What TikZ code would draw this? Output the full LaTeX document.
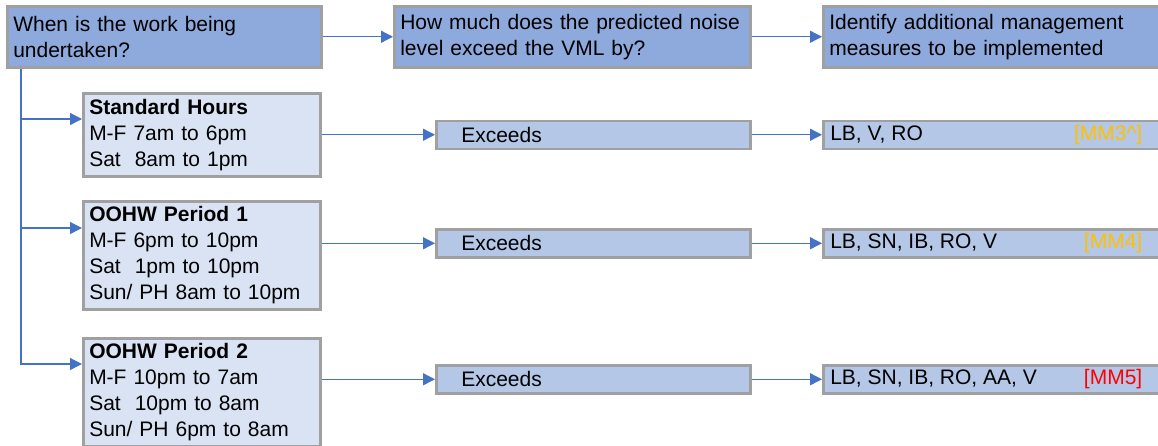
\documentclass[tikz,border=0pt]{standalone}
\usepackage{fontspec}
\setmainfont{Liberation Sans}
\usetikzlibrary{arrows.meta,calc}
\definecolor{topfill}{RGB}{142,169,219}
\definecolor{exfill}{RGB}{180,199,231}
\definecolor{subfill}{RGB}{218,227,243}
\definecolor{bordergray}{RGB}{160,160,160}
\definecolor{arrowblue}{RGB}{68,114,196}
\definecolor{mmorange}{RGB}{255,192,0}
\definecolor{mmred}{RGB}{255,0,0}
\tikzset{
  basebox/.style={draw=bordergray, line width=2.5pt, anchor=north west, inner ysep=0pt,
    font=\fontsize{21}{26}\selectfont},
  topbox/.style={basebox, fill=topfill, align=left, inner xsep=6pt, minimum height=61pt},
  subbox/.style={basebox, fill=subfill, align=left, inner xsep=6pt, text width=225pt},
  exbox/.style={basebox, fill=exfill, minimum height=28pt},
  arr/.style={draw=arrowblue, line width=1.3pt, -{Triangle[length=12pt,width=12pt]}},
}
\begin{document}
\begin{tikzpicture}[x=1pt,y=-1pt]
\useasboundingbox (0,0) rectangle (1158,445);
% top row
\node[topbox, text width=302pt] (q1) at (6,5) {When is the work being\\undertaken?};
\node[topbox, text width=344pt] (q2) at (393,5) {How much does the predicted noise\\level exceed the VML by?};
\node[topbox, text width=329pt] (q3) at (822,5) {Identify additional management\\measures to be implemented};
\draw[arr] (q1.east) -- (q2.west);
\draw[arr] (q2.east) -- (q3.west);
% periods
\node[subbox, minimum height=83pt] (s1) at (82,92) {\textbf{Standard Hours}\\M-F 7am to 6pm\\Sat\ \ 8am to 1pm};
\node[subbox, minimum height=108pt] (s2) at (82,200) {\textbf{OOHW Period 1}\\M-F 6pm to 10pm\\Sat\ \ 1pm to 10pm\\Sun/ PH 8am to 10pm};
\node[subbox, minimum height=108pt] (s3) at (82,337) {\textbf{OOHW Period 2}\\M-F 10pm to 7am\\Sat\ \ 10pm to 8am\\Sun/ PH 6pm to 8am};
% exceeds
\node[exbox, minimum width=314pt, text width=264pt, inner xsep=25pt, align=left] (e1) at (435,119.5) {Exceeds};
\node[exbox, minimum width=314pt, text width=264pt, inner xsep=25pt, align=left] (e2) at (435,228) {Exceeds};
\node[exbox, minimum width=314pt, text width=264pt, inner xsep=25pt, align=left] (e3) at (435,364) {Exceeds};
% results
\node[exbox, inner xsep=7pt] (r1) at (822,119.5) {\hbox to 329pt{LB, V, RO\hfill\textcolor{mmorange}{[MM3\textasciicircum]}\hspace{17pt}}};
\node[exbox, inner xsep=7pt] (r2) at (822,228) {\hbox to 329pt{LB, SN, IB, RO, V\hfill\textcolor{mmorange}{[MM4]}\hspace{17pt}}};
\node[exbox, inner xsep=7pt] (r3) at (822,364) {\hbox to 329pt{LB, SN, IB, RO, AA, V\hfill\textcolor{mmred}{[MM5]}\hspace{17pt}}};
% trunk
\coordinate (vx) at (21,0);
\coordinate (a1) at ($(s1.north west)+(0,27)$);
\coordinate (a2) at ($(s2.north west)+(0,28)$);
\coordinate (a3) at ($(s3.north west)+(0,27)$);
\draw[arr] (q1.south -| vx) |- (a3);
\draw[arr] (a1 -| vx) -- (a1);
\draw[arr] (a2 -| vx) -- (a2);
% row arrows
\draw[arr] (e1.west -| s1.east) -- (e1.west);
\draw[arr] (e2.west -| s2.east) -- (e2.west);
\draw[arr] (e3.west -| s3.east) -- (e3.west);
\draw[arr] (e1.east) -- (r1.west);
\draw[arr] (e2.east) -- (r2.west);
\draw[arr] (e3.east) -- (r3.west);
\end{tikzpicture}
\end{document}
